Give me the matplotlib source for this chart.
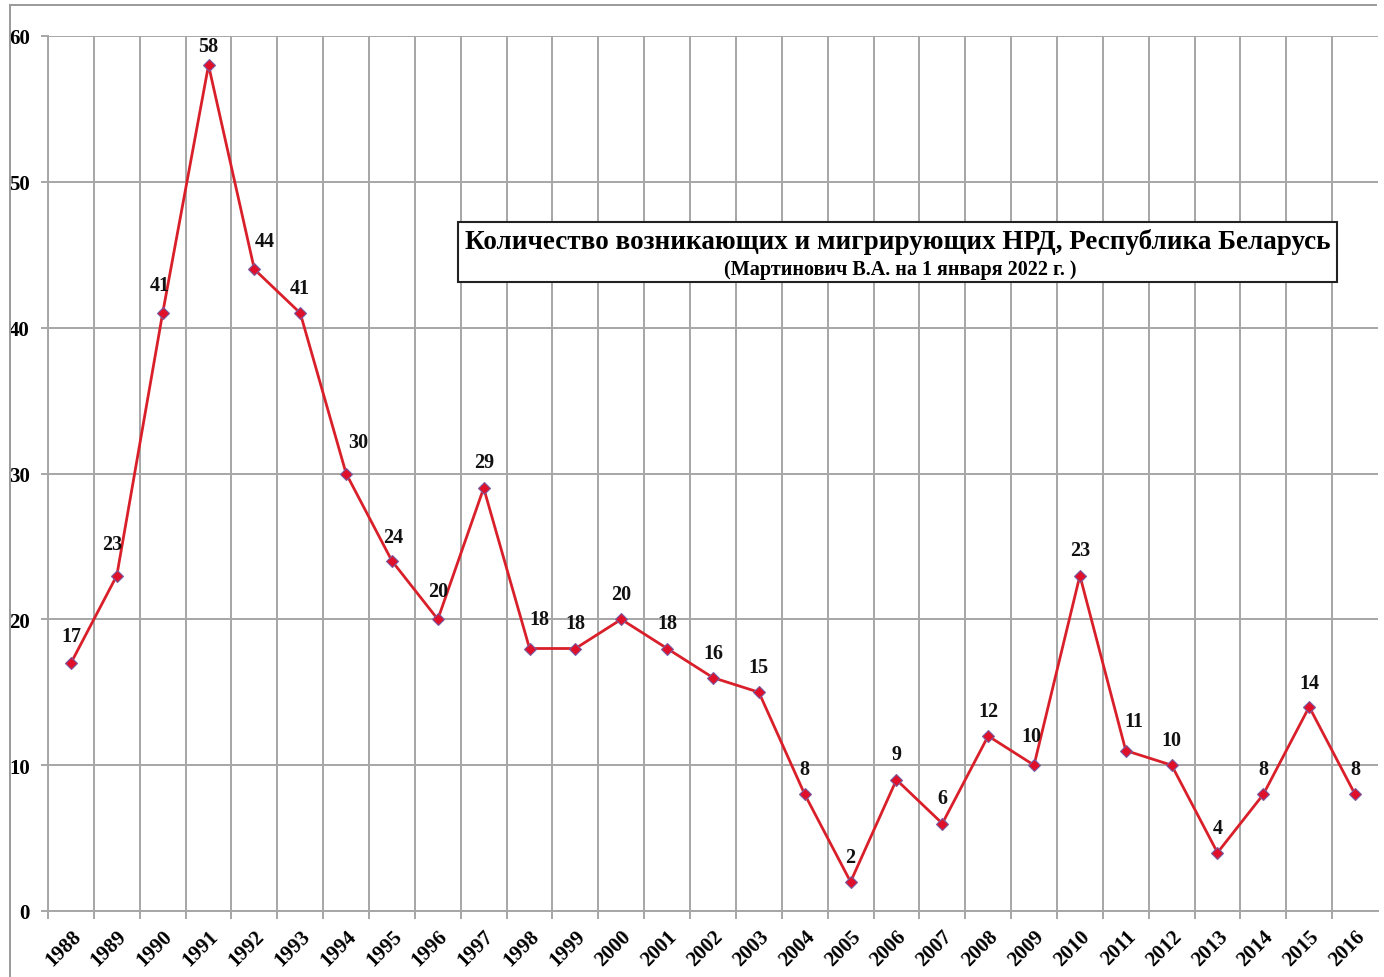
import matplotlib
matplotlib.use("Agg")
import matplotlib.pyplot as plt
from matplotlib.lines import Line2D
from matplotlib.ticker import FixedLocator

years = [str(y) for y in range(1988, 2017)]
counts = [17, 23, 41, 58, 44, 41, 30, 24, 20, 29, 18, 18, 20, 18, 16, 15, 8, 2, 9, 6,
          12, 10, 23, 11, 10, 4, 8, 14, 8]
title_main = "Количество возникающих и мигрирующих НРД, Республика Беларусь"
title_sub = "(Мартинович В.А. на 1 января 2022 г. )"

# per-label pixel offsets (dx, dy) of data labels, as placed in the original
label_dx = [0, -5, -3, 0, 10, 0, 12, 1, 0, 0, 10, 0, 0, 0, 0, 0, 0, 0, 0, 0,
            0, -3, 0, 8, 0, 0, 0, 0, 0]
label_dy = [27, 32, 28, 19, 28, 25, 31, 24, 28, 26, 29, 25, 25, 25, 25, 25, 25, 25, 26, 25,
            25, 29, 26, 30, 25, 25, 25, 24, 25]

W, H = 1384, 978
fig = plt.figure(figsize=(W / 100, H / 100), dpi=100)
serif = ["Liberation Serif", "DejaVu Serif"]
grid_c = "#a6a6a6"

left, right, top, bottom = 48, 1378, 37, 912
ax = fig.add_axes([left / W, 1 - bottom / H, (right - left) / W, (bottom - top) / H])

x = list(range(len(years)))
ax.plot(x, counts, color="#d9202a", lw=2.0, marker="D", ms=6.5,
        mfc="#e0102a", mec="#7a5aa0", mew=0.8, zorder=3, clip_on=False)

px = 72 / 100  # points per pixel
for xi, v, dx, dy in zip(x, counts, label_dx, label_dy):
    ax.annotate(str(v), (xi, v), xytext=(dx * px, dy * px), textcoords="offset points",
                ha="center", va="center", fontsize=14.5, fontweight="bold",
                family=serif, color="#111111", zorder=4)

ax.set_xlim(-0.5, len(years) - 0.5)
ax.set_ylim(0, 60)
ax.set_yticks(range(0, 61, 10))
ax.set_xticks(x)
ax.set_xticklabels(years)
ax.xaxis.set_minor_locator(FixedLocator([i + 0.5 for i in range(-1, len(years) - 1)]))

ax.grid(axis="y", which="major", color=grid_c, lw=1.4)
ax.grid(axis="x", which="minor", color=grid_c, lw=1.4)
ax.grid(axis="x", which="major", visible=False)

for s in ["top", "right"]:
    ax.spines[s].set_visible(False)
for s in ["left", "bottom"]:
    ax.spines[s].set_color(grid_c)
    ax.spines[s].set_linewidth(1.4)

ax.tick_params(axis="x", which="major", length=0, pad=11)
ax.tick_params(axis="x", which="minor", length=6, width=1.4, color=grid_c)
ax.tick_params(axis="y", length=5, width=1.4, color=grid_c, pad=8)

for lab in ax.get_xticklabels():
    lab.set_rotation(45)
    lab.set_ha("right")
    lab.set_va("top")
    lab.set_rotation_mode("anchor")
    lab.set_fontsize(15)
    lab.set_fontweight("bold")
    lab.set_family(serif)
for lab in ax.get_yticklabels():
    lab.set_fontsize(15)
    lab.set_fontweight("bold")
    lab.set_family(serif)

# title box
bx0, by0, bx1, by1 = 458, 223, 1337, 283
fig.patches.append(plt.Rectangle((bx0 / W, 1 - by1 / H), (bx1 - bx0) / W, (by1 - by0) / H,
                                 transform=fig.transFigure, fc="white", ec="#222222",
                                 lw=1.5, zorder=5))
fig.text((bx0 + bx1) / 2 / W, 1 - 242 / H, title_main, ha="center", va="center",
         fontsize=19.5, fontweight="bold", family=serif, zorder=6)
fig.text(900 / W, 1 - 270 / H, title_sub, ha="center", va="center",
         fontsize=14.5, fontweight="bold", family=serif, zorder=6)

# outer frame lines (left & top)
fig.add_artist(Line2D([10 / W, 10 / W], [0, 1 - 6 / H], color="#9a9a9a", lw=1.4,
                      transform=fig.transFigure))
fig.add_artist(Line2D([10 / W, 1376 / W], [1 - 6 / H, 1 - 6 / H], color="#9a9a9a", lw=1.4,
                      transform=fig.transFigure))

fig.savefig("out.png", dpi=100, facecolor="white")
